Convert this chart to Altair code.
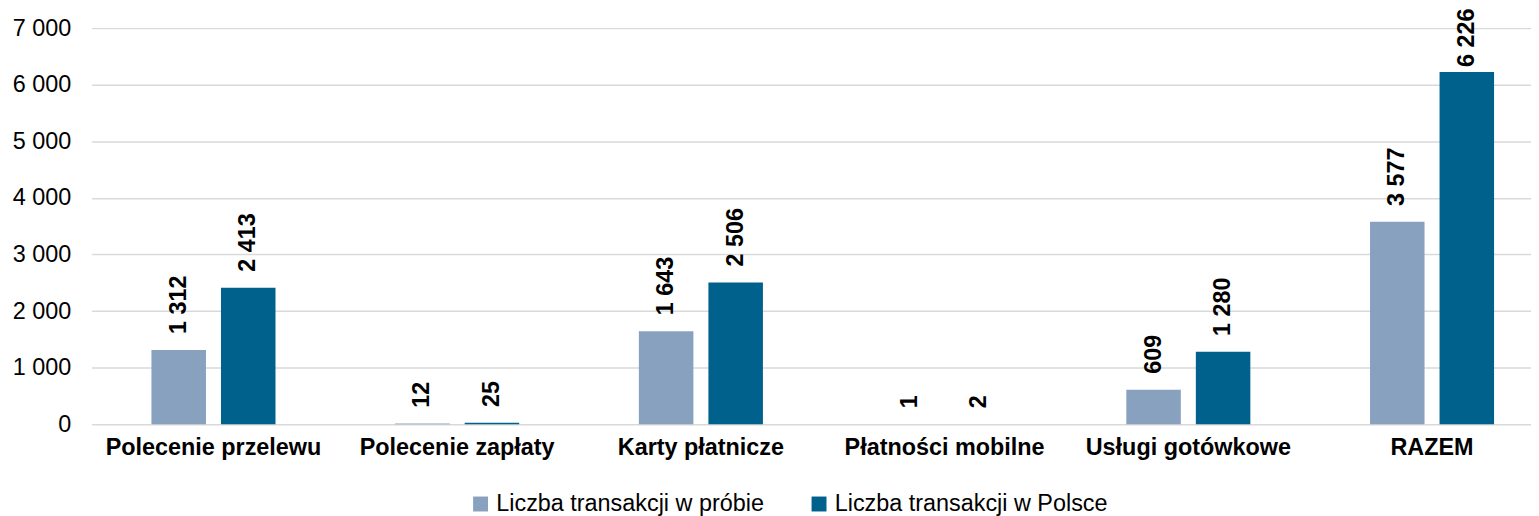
import altair as alt
import pandas as pd

categories = ["Polecenie przelewu", "Polecenie zapłaty", "Karty płatnicze",
              "Płatności mobilne", "Usługi gotówkowe", "RAZEM"]
series_names = ["Liczba transakcji w próbie", "Liczba transakcji w Polsce"]
sample_values = [1312, 12, 1643, 1, 609, 3577]
poland_values = [2413, 25, 2506, 2, 1280, 6226]
y_ticks = [0, 1000, 2000, 3000, 4000, 5000, 6000, 7000]

rows = []
for c, a, b in zip(categories, sample_values, poland_values):
    rows.append({"cat": c, "series": series_names[0], "value": a})
    rows.append({"cat": c, "series": series_names[1], "value": b})
df = pd.DataFrame(rows)
df["label"] = df["value"].map(lambda v: f"{v:,}".replace(",", " "))

FONT = "Liberation Sans, Arial, sans-serif"
FS = 23.5
colors = ["#87A1BF", "#00618C"]

x = alt.X("cat:N", sort=categories, title=None,
          scale=alt.Scale(paddingInner=0.491, paddingOuter=0.2455, range=[0, 1469]),
          axis=alt.Axis(labelAngle=0, labelFont=FONT, labelFontSize=FS,
                        labelFontWeight="bold", labelColor="#000000", labelLimit=0,
                        ticks=False, domain=False, labelPadding=11))
xo = alt.XOffset("series:N", sort=series_names,
                 scale=alt.Scale(paddingInner=0.216, paddingOuter=0))
y = alt.Y("value:Q", title=None,
          scale=alt.Scale(domain=[0, 7000], nice=False),
          axis=alt.Axis(values=y_ticks, labelFont=FONT, labelFontSize=FS,
                        labelColor="#000000", ticks=False, domain=False,
                        labelPadding=21, gridColor="#D9D9D9", gridWidth=1.4,
                        labelExpr="replace(format(datum.value, ','), ',', ' ')"))

bars = alt.Chart(df).mark_bar().encode(
    x=x, xOffset=xo, y=y,
    color=alt.Color("series:N", sort=series_names,
                    scale=alt.Scale(domain=series_names, range=colors),
                    legend=alt.Legend(title=None, orient="none", direction="horizontal",
                                      legendX=379, legendY=466,
                                      labelFont=FONT, labelFontSize=FS, labelLimit=0,
                                      labelColor="#000000", symbolType="square",
                                      symbolSize=225, symbolStrokeWidth=0,
                                      symbolOpacity=1, labelOffset=4,
                                      columnPadding=43)),
)

text_style = dict(angle=270, align="left", baseline="middle",
                  font=FONT, fontSize=FS, fontWeight="bold", color="#000000")

labels = alt.Chart(df).transform_filter("datum.value < 6000").mark_text(
    dx=16, **text_style
).encode(x=x, xOffset=xo, y=y, text="label:N")

labels_top = alt.Chart(df).transform_filter("datum.value >= 6000").mark_text(
    dx=5, **text_style
).encode(x=x, xOffset=xo, y=y, text="label:N")

chart = (bars + labels + labels_top).properties(
    width=1446, height=398,
    autosize=alt.AutoSizeParams(type="none"),
    padding={"left": 84, "top": 19, "right": 0, "bottom": 91},
).configure_view(stroke=None)

chart.save("out.html", embed_options={"renderer": "svg", "actions": False})
